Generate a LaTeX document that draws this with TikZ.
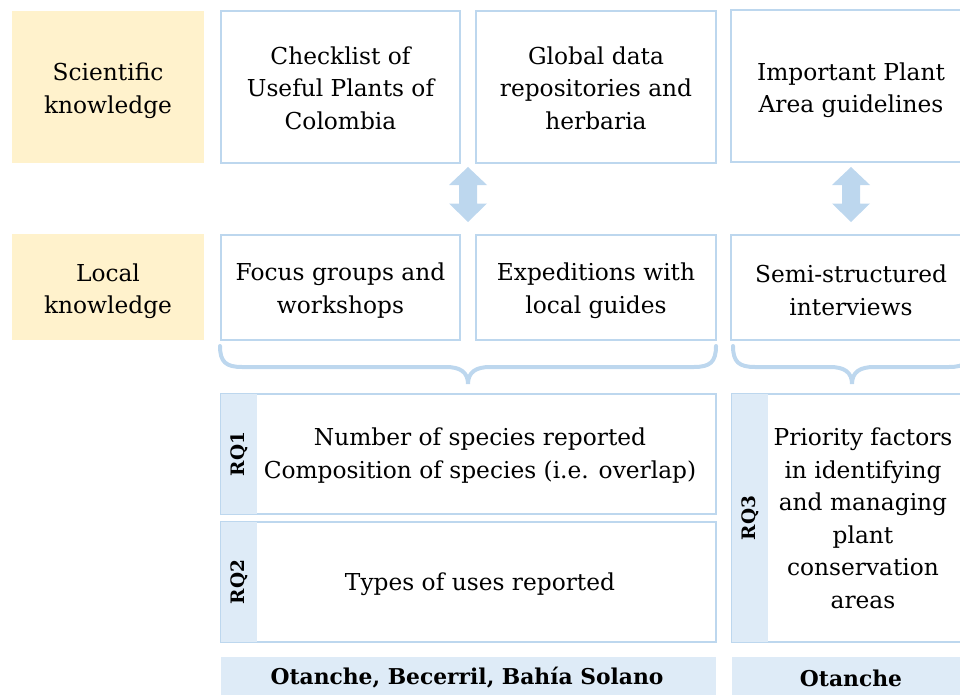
\documentclass[tikz,border=0pt]{standalone}
\usepackage{fontspec}
\setmainfont{DejaVu Serif}
\usetikzlibrary{calc}
\definecolor{bblue}{HTML}{BDD7EE}
\definecolor{lblue}{HTML}{DEEBF7}
\definecolor{lgold}{HTML}{FFF2CC}
\begin{document}
\begin{tikzpicture}[x=1pt,y=-1pt,
  txt/.style={align=center, font=\fontsize{23.3}{32.5}\selectfont, inner sep=0pt},
  box/.style={draw=bblue, line width=2pt, fill=white, inner sep=0pt, outer sep=0pt, anchor=north west},
  kbox/.style={fill=lgold, inner sep=0pt, outer sep=0pt, anchor=north west},
  strip/.style={fill=lblue, inner sep=0pt, outer sep=0pt, anchor=north west, minimum width=36pt},
  rqlab/.style={rotate=90, font=\bfseries\fontsize{18.5}{19}\selectfont, inner sep=0pt},
  bar/.style={fill=lblue, inner sep=0pt, outer sep=0pt, anchor=north west, minimum height=45pt},
  bartxt/.style={font=\bfseries\fontsize{21.8}{24}\selectfont, inner sep=0pt},
  brace/.style={draw=bblue, line width=4pt, line cap=round},
  dbl/.style={fill=bblue}
]
\useasboundingbox (0,0) rectangle (960,695);
\clip (0,0) rectangle (960,695);

% top row
\node[kbox, minimum width=192pt, minimum height=152pt] (sci) at (12,11) {};
\node[txt, yshift=-3.5pt] (sciT) at (sci.center) {Scientific\\knowledge};
\node[box, minimum width=239pt, minimum height=152pt] (chk) at (221,11) {};
\node[txt, yshift=-1pt] (chkT) at (chk.center) {Checklist of\\Useful Plants of\\Colombia};
\node[box, minimum width=240pt, minimum height=152pt] (glo) at (476,11) {};
\node[txt, yshift=-1pt] (gloT) at (glo.center) {Global data\\repositories and\\herbaria};
\node[box, minimum width=240pt, minimum height=152pt] (ipa) at (731,10) {};
\node[txt, yshift=-4pt] (ipaT) at (851,86) {Important Plant\\Area guidelines};

% second row
\node[kbox, minimum width=192pt, minimum height=106pt] (loc) at (12,234) {};
\node[txt, yshift=-4pt] (locT) at (loc.center) {Local\\knowledge};
\node[box, minimum width=239pt, minimum height=105pt] (foc) at (221,235) {};
\node[txt, yshift=-3pt] (focT) at (foc.center) {Focus groups and\\workshops};
\node[box, minimum width=240pt, minimum height=105pt] (exp) at (476,235) {};
\node[txt, yshift=-3pt] (expT) at (exp.center) {Expeditions with\\local guides};
\node[box, minimum width=240pt, minimum height=105pt] (semi) at (731,235) {};
\node[txt, yshift=-3pt] (semiT) at (851,287.5) {Semi-structured\\interviews};

% double arrows
\coordinate (a1) at (468,194.5);
\coordinate (a2) at (851,194.5);
\foreach \c in {a1,a2}{
  \fill[dbl, shift={(\c)}] (0,-27.5) -- (19,-9.5) -- (9,-9.5) -- (9,9) -- (19,9) -- (0,27.5)
     -- (-19,9) -- (-9,9) -- (-9,-9.5) -- (-19,-9.5) -- cycle;
}

% braces
\coordinate (b1l) at (220,346);
\coordinate (b1t) at (468,384);
\coordinate (b1r) at (716,346);
\draw[brace] (b1l) .. controls ($(b1l)+(0,16)$) and ($(b1l)+(6,21)$) .. ($(b1l)+(22,21)$)
  -- ($(b1t)+(-22,-17)$) .. controls ($(b1t)+(-8,-17)$) and ($(b1t)+(0,-12)$) .. (b1t)
  .. controls ($(b1t)+(0,-12)$) and ($(b1t)+(8,-17)$) .. ($(b1t)+(22,-17)$)
  -- ($(b1r)+(-22,21)$) .. controls ($(b1r)+(-6,21)$) and ($(b1r)+(0,16)$) .. (b1r);
\coordinate (b2l) at (733,346);
\coordinate (b2t) at (852,384);
\coordinate (b2r) at (971,346);
\draw[brace] (b2l) .. controls ($(b2l)+(0,16)$) and ($(b2l)+(6,21)$) .. ($(b2l)+(22,21)$)
  -- ($(b2t)+(-22,-17)$) .. controls ($(b2t)+(-8,-17)$) and ($(b2t)+(0,-12)$) .. (b2t)
  .. controls ($(b2t)+(0,-12)$) and ($(b2t)+(8,-17)$) .. ($(b2t)+(22,-17)$)
  -- ($(b2r)+(-22,21)$) .. controls ($(b2r)+(-6,21)$) and ($(b2r)+(0,16)$) .. (b2r);

% research question boxes
\node[box, minimum width=495pt, minimum height=120pt] (rq1) at (221,394) {};
\node[strip, minimum height=120pt] (s1) at (221,394) {};
\node[rqlab] (l1) at (s1.center) {RQ1};
\node[txt] (t1) at (480,455.5) {Number of species reported\\Composition of species (i.e. overlap)};

\node[box, minimum width=495pt, minimum height=120pt] (rq2) at (221,522) {};
\node[strip, minimum height=120pt] (s2) at (221,522) {};
\node[rqlab] (l2) at (s2.center) {RQ2};
\node[txt] (t2) at (480,584) {Types of uses reported};

\node[box, minimum width=240pt, minimum height=248pt] (rq3) at (732,394) {};
\node[strip, minimum height=248pt] (s3) at (732,394) {};
\node[rqlab] (l3) at (s3.center) {RQ3};
\node[txt] (t3) at (863,518.5) {Priority factors\\in identifying\\and managing\\plant\\conservation\\areas};

% bottom bars
\node[bar, minimum width=495pt] (bar1) at (221,657) {};
\node[bartxt] (bt1) at (467,678) {Otanche, Becerril, Bahía Solano};
\node[bar, minimum width=240pt] (bar2) at (732,657) {};
\node[bartxt] (bt2) at (851,678) {Otanche};
\end{tikzpicture}
\end{document}
